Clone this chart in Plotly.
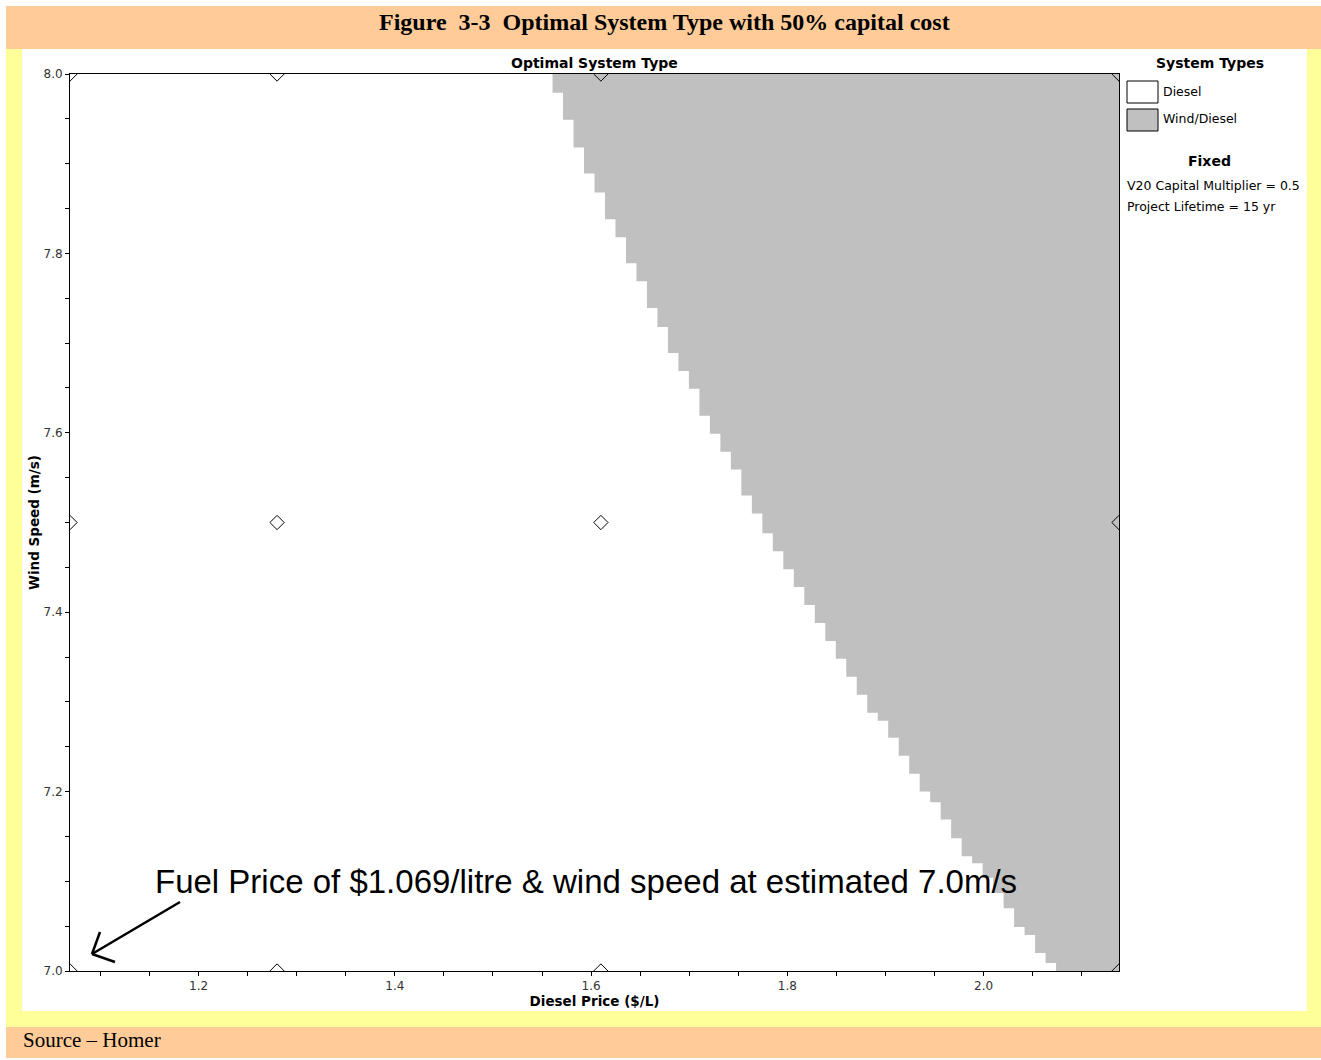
import plotly.graph_objects as go

# ---------------- data ----------------
price_min = 1.069          # Diesel price axis start ($/L)
price_max = 2.138          # Diesel price axis end ($/L)
n_price_cols = 100         # sensitivity grid columns
first_grey_col = 46        # first column where Wind/Diesel appears
# lowest wind speed (m/s) at which Wind/Diesel is optimal, per column from first_grey_col
wind_threshold = [7.979, 7.949, 7.918, 7.889, 7.868, 7.838, 7.818, 7.789, 7.769, 7.739,
                  7.718, 7.689, 7.669, 7.649, 7.619, 7.599, 7.579, 7.559, 7.530, 7.510,
                  7.488, 7.468, 7.448, 7.428, 7.408, 7.388, 7.368, 7.348, 7.328, 7.308,
                  7.288, 7.279, 7.260, 7.240, 7.220, 7.200, 7.188, 7.169, 7.148, 7.128,
                  7.120, 7.104, 7.087, 7.070, 7.049, 7.040, 7.020, 7.009,
                  7.0, 7.0, 7.0, 7.0, 7.0, 7.0]
wind_min, wind_max = 7.0, 8.0
sens_price = [1.069, 1.28, 1.61, 2.138]
sens_wind = [7.0, 7.5, 8.0]
x_ticks = [1.2, 1.4, 1.6, 1.8, 2.0]
y_ticks = [7.0, 7.2, 7.4, 7.6, 7.8, 8.0]

# ---------------- layout helpers (pixel -> paper) ----------------
W, H = 1321, 1060
L, R, T, B = 70, 1119, 74, 971
def px(x):
    return (x - L) / (R - L)
def py(y):
    return (B - y) / (B - T)

SANS = "DejaVu Sans"

step = (price_max - price_min) / n_price_cols
def edge(k):
    return price_min + k * step

xs = [edge(first_grey_col)]
ys = [wind_max]
for i, t in enumerate(wind_threshold):
    k = first_grey_col + i
    xs += [edge(k), edge(k + 1)]
    ys += [t, t]
xs += [price_max, edge(first_grey_col)]
ys += [wind_max, wind_max]

fig = go.Figure()
fig.add_trace(go.Scatter(x=xs, y=ys, mode="lines", fill="toself",
                         fillcolor="#c0c0c0", line=dict(width=0, color="#c0c0c0"),
                         hoverinfo="skip", showlegend=False))
mx, my = [], []
for w in sens_wind:
    for p in sens_price:
        mx.append(p)
        my.append(w)
fig.add_trace(go.Scatter(x=mx, y=my, mode="markers",
                         marker=dict(symbol="diamond-open", size=11, color="black",
                                     line=dict(width=1, color="black")),
                         showlegend=False, hoverinfo="skip"))

shapes = []
def rect(x0, y0, x1, y1, fill, line=None, layer="below"):
    d = dict(type="rect", xref="paper", yref="paper",
             x0=px(x0), x1=px(x1), y0=py(y1), y1=py(y0),
             fillcolor=fill, layer=layer,
             line=dict(width=0) if line is None else line)
    shapes.append(d)

rect(6, 6, 1321, 49, "#FFCC99")
rect(6, 49, 1321, 1027, "#FFFF99")
rect(22, 49, 1307, 1011, "white")
rect(6, 1027, 1321, 1058, "#FFCC99")
# legend boxes
rect(1127, 81, 1158, 103, "white", dict(width=1, color="black"), layer="above")
rect(1127, 109, 1158, 131, "#c0c0c0", dict(width=1, color="black"), layer="above")

# hand-drawn arrow
def seg(x0, y0, x1, y1):
    shapes.append(dict(type="line", xref="paper", yref="paper",
                       x0=px(x0), y0=py(y0), x1=px(x1), y1=py(y1),
                       line=dict(color="black", width=2.5), layer="above"))
seg(180, 902, 92, 954)
seg(92, 954, 100, 932)
seg(92, 954, 115, 962)

ann = []
def text(x, y, s, size, family=SANS, bold=False, xanchor="center",
         yanchor="middle", color="black"):
    ann.append(dict(xref="paper", yref="paper", x=px(x), y=py(y),
                    text=("<b>%s</b>" % s) if bold else s, showarrow=False,
                    xanchor=xanchor, yanchor=yanchor,
                    font=dict(family=family, size=size, color=color)))

text(664, 22, "Figure  3-3  Optimal System Type with 50% capital cost", 24,
     family="Liberation Serif", bold=True)
text(21, 1040, "Source \u2013 Homer", 21, family="Liberation Serif", xanchor="left")
text(594, 63, "Optimal System Type", 14, bold=True)
text(1210, 63, "System Types", 14, bold=True)
text(1161, 92, "Diesel", 12.5, xanchor="left")
text(1161, 119, "Wind/Diesel", 12.5, xanchor="left")
text(1209, 161, "Fixed", 14, bold=True)
text(1125, 185, "V20 Capital Multiplier = 0.5", 12.5, xanchor="left")
text(1125, 206, "Project Lifetime = 15 yr", 12.5, xanchor="left")
text(153, 881, "Fuel Price of $1.069/litre &amp; wind speed at estimated 7.0m/s", 33,
     family="Liberation Sans", xanchor="left")

axis_common = dict(showline=True, linecolor="black", linewidth=1, mirror=True,
                   showgrid=False, zeroline=False, ticks="outside", ticklen=4,
                   tickcolor="black", tickfont=dict(family=SANS, size=12, color="#333"),
                   tickformat=".1f")
fig.update_layout(
    width=W, height=H,
    margin=dict(l=L, r=W - R, t=T, b=H - B, pad=0),
    paper_bgcolor="white", plot_bgcolor="white",
    shapes=shapes, annotations=ann, showlegend=False,
    xaxis=dict(range=[price_min, price_max], tickvals=x_ticks,
               minor=dict(dtick=0.05, tick0=1.0, ticks="outside", ticklen=4, tickcolor="black"),
               title=dict(text="<b>Diesel Price ($/L)</b>", standoff=2,
                          font=dict(family=SANS, size=13.5, color="black")),
               **axis_common),
    yaxis=dict(range=[wind_min, wind_max], tickvals=y_ticks,
               minor=dict(dtick=0.05, tick0=7.0, ticks="outside", ticklen=4, tickcolor="black"),
               title=dict(text="<b>Wind Speed (m/s)</b>", standoff=0,
                          font=dict(family=SANS, size=13.5, color="black")),
               **axis_common),
)

fig.write_html("out.html", config={"displayModeBar": False},
               post_script="document.body.style.margin='0';document.body.style.overflow='hidden';")
